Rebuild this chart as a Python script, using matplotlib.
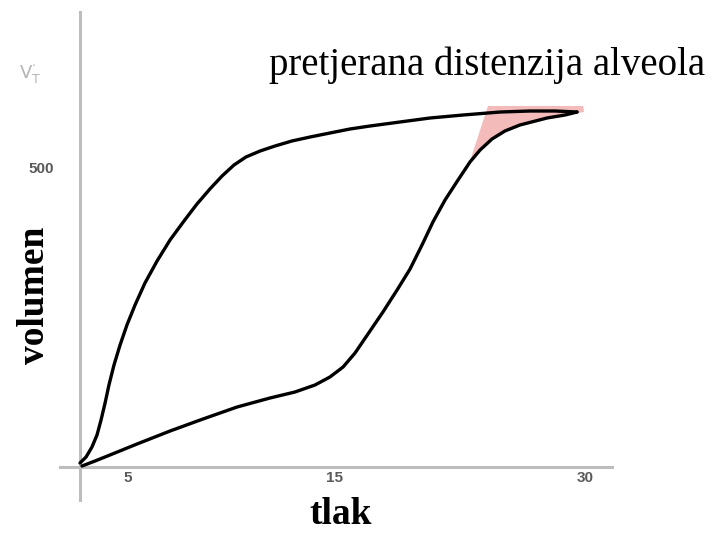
import numpy as np
import matplotlib
matplotlib.use("Agg")
import matplotlib.pyplot as plt

# pressure (x) / volume (y) loop
insp_p = [0.12, 0.89, 1.78, 3.39, 5.35, 7.31, 9.33, 11.29, 12.77, 13.96,
          14.85, 15.63, 16.34, 17.11, 18.00, 18.84, 19.61, 20.32, 20.97, 21.69,
          22.46, 23.17, 23.77, 24.48, 25.25, 26.14, 27.75, 28.82, 29.53]
insp_v = [1.7, 10.0, 20.1, 38.5, 60.2, 80.3, 100.3, 115.4, 125.4, 137.1,
          150.5, 167.2, 190.6, 222.4, 259.2, 296.0, 331.1, 371.2, 409.7, 446.5,
          479.9, 510.0, 530.1, 548.5, 561.9, 571.9, 583.6, 588.6, 593.6]

exp_p = [0.00, 0.36, 0.71, 1.01, 1.25, 1.49, 1.72, 2.02, 2.38, 2.79,
         3.27, 3.86, 4.58, 5.35, 6.18, 6.95, 7.72, 8.44, 9.15, 9.86,
         10.70, 11.59, 12.60, 13.67, 14.85, 16.04, 17.23, 19.01, 20.80, 22.76,
         24.96, 26.74, 28.22, 29.53]
exp_v = [6.7, 16.7, 33.4, 53.5, 78.6, 107.0, 137.1, 170.6, 204.0, 237.5,
         270.9, 307.7, 344.5, 379.6, 411.4, 439.8, 464.9, 486.6, 505.0, 518.4,
         528.4, 536.8, 545.2, 551.8, 558.5, 565.2, 570.2, 576.9, 583.6, 588.6,
         593.6, 595.3, 595.3, 593.6]

# overdistension shaded zone
shade_p = [24.24, 29.89, 29.95, 28.82, 27.75, 26.14, 25.25, 24.48, 23.77, 23.17, 22.88]
shade_v = [603.7, 603.7, 593.6, 588.6, 583.6, 571.9, 561.9, 548.5, 530.1, 510.0, 486.6]

x_ticks = [2.85, 15.15, 30.0]
x_tick_labels = ["5", "15", "30"]
y_ticks = [500]
y_tick_labels = ["500"]

fig = plt.figure(figsize=(7.12, 5.38), dpi=100)
ax = fig.add_axes([0, 0, 1, 1])
ax.set_xlim(-4.753, 37.55)
ax.set_ylim(-118.7, 780.9)

ax.fill(shade_p, shade_v, color="#f3b0b0", alpha=0.85, lw=0, zorder=2)
ax.plot(insp_p, insp_v, color="black", lw=2.4, solid_joinstyle="round",
        solid_capstyle="round", zorder=3)
ax.plot(exp_p, exp_v, color="black", lw=2.4, solid_joinstyle="round",
        solid_capstyle="round", zorder=3)

for s in ["top", "right"]:
    ax.spines[s].set_visible(False)
for s in ["left", "bottom"]:
    ax.spines[s].set_position(("data", 0))
    ax.spines[s].set_color("#bdbdbd")
    ax.spines[s].set_linewidth(2.2)
ax.spines["left"].set_bounds(-55, 761)
ax.spines["bottom"].set_bounds(-1.2, 31.6)

ax.set_xticks(x_ticks)
ax.set_xticklabels(x_tick_labels)
ax.set_yticks(y_ticks)
ax.set_yticklabels(y_tick_labels)
ax.tick_params(axis="x", length=0, pad=3, labelsize=11, labelcolor="#5a5a5a")
ax.tick_params(axis="y", length=0, pad=19, labelsize=11, labelcolor="#5a5a5a")
for lab in ax.get_xticklabels() + ax.get_yticklabels():
    lab.set_family("Liberation Sans")
    lab.set_weight("bold")

fig.text(0.043, 0.862, r"$\mathregular{V^{\cdot}_{T}}$", color="#b5b5b5",
         fontsize=13, ha="center", va="center")

serif = "Liberation Serif"
fig.text(0.990, 0.861, "pretjerana distenzija alveola", family=serif,
         fontsize=28, ha="right", va="baseline")
fig.text(0.478, 0.043, "tlak", family=serif, fontsize=27, weight="bold",
         ha="center", va="center")
fig.text(0.049, 0.452, "volumen", family=serif, fontsize=27, weight="bold",
         rotation=90, ha="center", va="center")

fig.savefig("out.png", dpi=100)
